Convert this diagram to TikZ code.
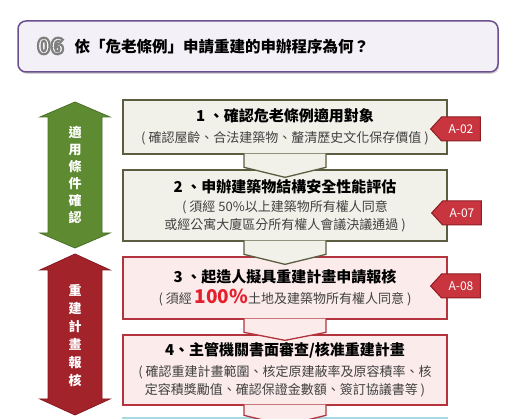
\documentclass[tikz,border=0pt]{standalone}
\usepackage{fontspec}
\setmainfont{Noto Sans CJK TC}
\usetikzlibrary{calc,shapes.symbols,shadows}
\definecolor{titlefill}{HTML}{F4F0F7}
\definecolor{titleline}{HTML}{6B4F8E}
\definecolor{beige}{HTML}{F2F1E9}
\definecolor{oliveline}{HTML}{5C5C40}
\definecolor{pinkfill}{HTML}{FBEBEB}
\definecolor{redline}{HTML}{B3343C}
\definecolor{cyanfill}{HTML}{EAF5F8}
\definecolor{cyanline}{HTML}{A8D8E2}
\definecolor{greenarrow}{HTML}{5E8B31}
\definecolor{greenedge}{HTML}{4B7126}
\definecolor{redarrow}{HTML}{A3232B}
\definecolor{redarrowedge}{HTML}{86181F}
\definecolor{tagfill}{HTML}{C9353E}
\definecolor{tagedge}{HTML}{8E1C23}
\definecolor{subgray}{HTML}{404040}
\definecolor{red100}{HTML}{E4202C}
% white digits with a gray outline (stroked text)
\newcommand\haloed[1]{\special{pdf:literal direct 2 Tr 2.2 w 0.5 0.5 0.5 RG}#1\special{pdf:literal direct 0 Tr}}
\begin{document}
\begin{tikzpicture}[x=1pt,y=-1pt,
titlebox/.style ={rectangle, draw=titleline, line width=1.5pt, fill=titlefill,
  rounded corners=8pt, minimum width=480pt, minimum height=51pt,
  drop shadow={opacity=0.35, shadow xshift=1.2pt, shadow yshift=-1.8pt}
},
stepbox/.style ={rectangle, line width=1.3pt, minimum width=324pt,
  align=center, inner sep=0pt, font=\fontsize{13}{18}\selectfont
},
checkbox/.style ={stepbox, draw=oliveline, fill=beige},
planbox/.style ={stepbox, draw=redline, fill=pinkfill},
steptab/.style ={line width=1.3pt, line join=miter},
tagbox/.style ={signal, signal to=west, signal pointer angle=95,
  draw=tagedge, fill=tagfill, line width=1pt, text=white,
  minimum height=24pt, inner xsep=7pt, inner ysep=0pt,
  font=\fontsize{12}{12}\selectfont
},
sidetext/.style ={text=white, align=center, font=\bfseries\fontsize{13}{17}\selectfont}
]
\useasboundingbox (0,0) rectangle (515,419);
\clip (0,0) rectangle (515,419);

% title bar
\node[titlebox] (title) at (258,46.5) {};
\node[text=white, font=\bfseries\fontsize{22}{22}\selectfont] (num) at (50.5,46) {\haloed{06}};
\node[anchor=west, font=\bfseries\fontsize{15.5}{16}\selectfont] (ttl) at (71,46.5)
  {依「危老條例」申請重建的申辦程序為何？};

% side arrows
\filldraw[fill=greenarrow, draw=greenedge, line width=0.8pt]
  (75,102) -- (110,117) -- (102,117) -- (102,233) -- (110,233) -- (75,248)
  -- (40,233) -- (48,233) -- (48,117) -- (40,117) -- cycle;
\node[sidetext] (side1) at (75,175) {適\\用\\條\\件\\確\\認};
\filldraw[fill=redarrow, draw=redarrowedge, line width=0.8pt]
  (75,254) -- (110,270) -- (102,270) -- (102,399) -- (110,399) -- (75,415)
  -- (40,399) -- (48,399) -- (48,270) -- (40,270) -- cycle;
\node[sidetext, font=\bfseries\fontsize{13}{18}\selectfont] (side2) at (75,336) {重\\建\\計\\畫\\報\\核};

% step boxes
\node[checkbox, minimum height=54pt] (b1) at (285,127)
  {{\bfseries\fontsize{15}{18}\selectfont 1 、確認危老條例適用對象}\\[3pt]
   {\color{subgray}( 確認屋齡、合法建築物、釐清歷史文化保存價值 )}};
\node[checkbox, minimum height=71pt] (b2) at (285,205.5)
  {{\bfseries\fontsize{15}{18}\selectfont 2 、申辦建築物結構安全性能評估}\\[1pt]
   {\color{subgray}( 須經 50\%以上建築物所有權人同意}\\
   {\color{subgray}或經公寓大廈區分所有權人會議決議通過 )}};
\node[planbox, minimum height=62pt] (b3) at (285,288)
  {{\bfseries\fontsize{15}{18}\selectfont 3 、起造人擬具重建計畫申請報核}\\[3pt]
   {\color{subgray}( 須經 {\color{red100}\bfseries\fontsize{19}{18}\selectfont 100\%}土地及建築物所有權人同意 )}};
\node[planbox, minimum height=70pt] (b4) at (285,370)
  {{\bfseries\fontsize{15}{18}\selectfont 4、主管機關書面審查/核准重建計畫}\\[3pt]
   {\color{subgray}( 確認重建計畫範圍、核定原建蔽率及原容積率、核}\\
   {\color{subgray}定容積獎勵值、確認保證金數額、簽訂協議書等 )}};
\node[stepbox, draw=cyanline, fill=cyanfill, minimum height=60pt] (b5) at (285,448) {};

% arrow tabs below each box
\filldraw[steptab, draw=oliveline, fill=beige]
  ($(b1.south)+(-41,-1)$) -- ($(b2.north)+(-41,-2)$) -- ($(b2.north)+(0,8)$)
  -- ($(b2.north)+(41,-2)$) -- ($(b1.south)+(41,-1)$);
\filldraw[steptab, draw=oliveline, fill=beige]
  ($(b2.south)+(-41,-1)$) -- ($(b3.north)+(-41,-2)$) -- ($(b3.north)+(0,8)$)
  -- ($(b3.north)+(41,-2)$) -- ($(b2.south)+(41,-1)$);
\filldraw[steptab, draw=redline, fill=pinkfill]
  ($(b3.south)+(-41,-1)$) -- ($(b4.north)+(-41,-2)$) -- ($(b4.north)+(0,6)$)
  -- ($(b4.north)+(41,-2)$) -- ($(b3.south)+(41,-1)$);
\filldraw[steptab, draw=redline, fill=pinkfill]
  ($(b4.south)+(-41,-1)$) -- ($(b5.north)+(-41,-2)$) -- ($(b5.north)+(0,8)$)
  -- ($(b5.north)+(41,-2)$) -- ($(b4.south)+(41,-1)$);

% form tags
\node[tagbox] (t1) at (461,129) {A-02};
\node[tagbox] (t2) at (462,213) {A-07};
\node[tagbox] (t3) at (461,286) {A-08};
\end{tikzpicture}
\end{document}
